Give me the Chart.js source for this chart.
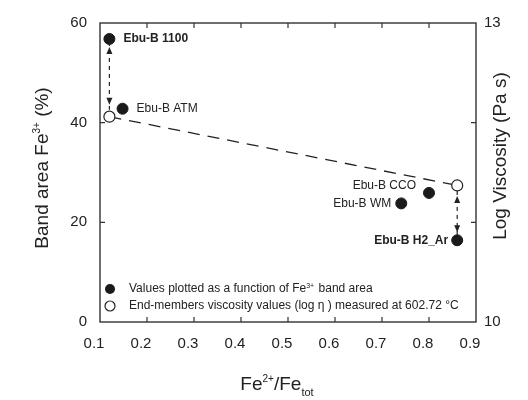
<!DOCTYPE html>
<html><head><meta charset="utf-8">
<script src="https://cdn.jsdelivr.net/npm/chart.js@4/dist/chart.umd.min.js"></script>
<style>html,body{margin:0;padding:0;background:#fff}#wrap{width:528px;height:400px}</style>
</head><body><div id="wrap"><canvas id="c" width="528" height="400"></canvas></div>
<script>
const samples = ['Ebu-B 1100','Ebu-B ATM','Ebu-B CCO','Ebu-B WM','Ebu-B H2_Ar'];
const boldLabel = [true,false,false,false,true];
const feRatio = [0.12, 0.148, 0.80, 0.741, 0.86];
const fe3Area = [56.8, 42.8, 25.9, 23.8, 16.4];
const endMemberRatio = [0.12, 0.86];
const logViscosity = [12.06, 11.37];
const arrowX = [0.12, 0.86];
const arrowTop = [55.2, 25.3];
const arrowBottom = [43.6, 18.0];
const xTicks = [0.1,0.2,0.3,0.4,0.5,0.6,0.7,0.8,0.9];
const yTicks = [0,20,40,60];
const y2Ticks = [10,11,12,13];
const y2Shown = [10,13];

const FONT = '"Liberation Sans", Arial, Helvetica, sans-serif';
const INK = '#222';

const labelOffsets = [[14,0,'left'],[14,0,'left'],[-13,-7,'right'],[-10,0,'right'],[-9,0,'right']];

const deco = {
  id:'deco',
  afterDatasetsDraw(chart){
    const {ctx, chartArea:a, scales} = chart;
    const x = scales.x, y = scales.y, y2 = scales.y2;
    ctx.save();
    // box
    ctx.strokeStyle = '#333'; ctx.lineWidth = 1.4;
    ctx.strokeRect(a.left, a.top, a.right-a.left, a.bottom-a.top);
    // inward ticks
    ctx.lineWidth = 1.2;
    ctx.beginPath();
    xTicks.forEach(v=>{ if(v<=0.1||v>=0.9) return; const px=x.getPixelForValue(v);
      ctx.moveTo(px,a.bottom); ctx.lineTo(px,a.bottom-5);
      ctx.moveTo(px,a.top); ctx.lineTo(px,a.top+5); });
    yTicks.forEach(v=>{ if(v<=0||v>=60) return; const py=y.getPixelForValue(v);
      ctx.moveTo(a.left,py); ctx.lineTo(a.left+5,py); });
    y2Ticks.forEach(v=>{ if(v<=10||v>=13) return; const py=y2.getPixelForValue(v);
      ctx.moveTo(a.right,py); ctx.lineTo(a.right-5,py); });
    ctx.stroke();
    // arrowheads
    ctx.fillStyle = INK;
    arrowX.forEach((v,i)=>{
      const px=x.getPixelForValue(v), pt=y.getPixelForValue(arrowTop[i]), pb=y.getPixelForValue(arrowBottom[i]);
      ctx.beginPath(); ctx.moveTo(px,pt); ctx.lineTo(px-3,pt+7); ctx.lineTo(px+3,pt+7); ctx.closePath(); ctx.fill();
      ctx.beginPath(); ctx.moveTo(px,pb); ctx.lineTo(px-3,pb-7); ctx.lineTo(px+3,pb-7); ctx.closePath(); ctx.fill();
    });
    // point labels
    ctx.textBaseline='middle';
    samples.forEach((s,i)=>{
      const px=x.getPixelForValue(feRatio[i]), py=y.getPixelForValue(fe3Area[i]);
      const o=labelOffsets[i];
      ctx.font=(boldLabel[i]?'bold ':'')+'12px '+FONT;
      ctx.textAlign=o[2];
      ctx.fillStyle=INK;
      ctx.fillText(s, px+o[0], py+o[1]);
    });
    // legend
    const lx = a.left+10, ly1 = a.bottom-33, ly2 = a.bottom-16;
    ctx.beginPath(); ctx.arc(lx, ly1, 5, 0, Math.PI*2); ctx.fillStyle='#1a1a1a'; ctx.fill();
    ctx.beginPath(); ctx.arc(lx, ly2, 5, 0, Math.PI*2); ctx.fillStyle='#fff'; ctx.fill();
    ctx.lineWidth=1.2; ctx.strokeStyle=INK; ctx.stroke();
    ctx.fillStyle=INK; ctx.textAlign='left'; ctx.textBaseline='middle';
    ctx.font='12px '+FONT;
    let tx = lx+19;
    const t1='Values plotted as a function of Fe';
    ctx.fillText(t1, tx, ly1); tx+=ctx.measureText(t1).width;
    ctx.font='7px '+FONT; ctx.fillText('3+', tx, ly1-3); tx+=ctx.measureText('3+').width+1;
    ctx.font='12px '+FONT; ctx.fillText(' band area', tx, ly1);
    ctx.fillText('End-members viscosity values (log \u03B7 ) measured at 602.72 \u00B0C', lx+19, ly2);
    // axis titles
    ctx.font='19px '+FONT; ctx.fillStyle=INK;
    // bottom
    const parts=[['Fe',19,0],['2+',10,-8],['/Fe',19,0],['tot',11,6]];
    let w=0; parts.forEach(p=>{ctx.font=p[1]+'px '+FONT; w+=ctx.measureText(p[0]).width;});
    let bx = 277 - w/2; const by = 390;
    ctx.textBaseline='alphabetic';
    parts.forEach(p=>{ctx.font=p[1]+'px '+FONT; ctx.fillText(p[0], bx, by+p[2]); bx+=ctx.measureText(p[0]).width;});
    // left
    const lparts=[['Band area Fe',19,0],['3+',10,-8],[' (%)',19,0]];
    w=0; lparts.forEach(p=>{ctx.font=p[1]+'px '+FONT; w+=ctx.measureText(p[0]).width;});
    ctx.save(); ctx.translate(48,168); ctx.rotate(-Math.PI/2);
    let qx=-w/2; lparts.forEach(p=>{ctx.font=p[1]+'px '+FONT; ctx.fillText(p[0], qx, p[2]); qx+=ctx.measureText(p[0]).width;});
    ctx.restore();
    // right
    ctx.save(); ctx.translate(506,156); ctx.rotate(-Math.PI/2);
    ctx.font='19px '+FONT; ctx.textAlign='center'; ctx.fillText('Log Viscosity (Pa s)', 0, 0);
    ctx.restore();
    ctx.restore();
  }
};

const filled = feRatio.map((v,i)=>({x:v,y:fe3Area[i]}));
const open = endMemberRatio.map((v,i)=>({x:v,y:logViscosity[i]}));
const arrowSets = arrowX.map((v,i)=>({
  type:'line', yAxisID:'y', data:[{x:v,y:arrowTop[i]+1},{x:v,y:arrowBottom[i]-1}],
  borderColor:INK, borderWidth:1.2, borderDash:[4,4], pointRadius:0, showLine:true, fill:false
}));

new Chart(document.getElementById('c'),{
  type:'scatter',
  data:{datasets:[
    {type:'line', yAxisID:'y2', data:open, showLine:true, borderColor:INK, borderWidth:1.3, borderDash:[12,8],
     pointRadius:5.5, pointBackgroundColor:'#fff', pointBorderColor:INK, pointBorderWidth:1.2, fill:false, order:2},
    {yAxisID:'y', data:filled, pointRadius:5.5, pointBackgroundColor:'#1a1a1a', pointBorderColor:'#1a1a1a', order:1},
    ...arrowSets
  ]},
  options:{
    responsive:false, animation:false, devicePixelRatio:1,
    layout:{padding:{top:23,left:0,right:0,bottom:0}},
    plugins:{legend:{display:false}, tooltip:{enabled:false}},
    scales:{
      x:{type:'linear', min:0.1, max:0.9, border:{display:false}, grid:{display:false, drawTicks:false},
         afterBuildTicks(s){ s.ticks = xTicks.map(v=>({value:v})); },
         afterFit(s){ s.height = 78; },
         ticks:{color:INK, font:{family:FONT,size:15}, padding:13, labelOffset:-6, callback:v=>v.toFixed(1), maxRotation:0, autoSkip:false}},
      y:{type:'linear', position:'left', min:0, max:60, border:{display:false}, grid:{display:false, drawTicks:false},
         afterBuildTicks(s){ s.ticks = yTicks.map(v=>({value:v})); },
         afterFit(s){ s.width = 100; },
         ticks:{color:INK, font:{family:FONT,size:15}, padding:13}},
      y2:{type:'linear', position:'right', min:10, max:13, border:{display:false}, grid:{display:false, drawTicks:false},
         afterBuildTicks(s){ s.ticks = y2Shown.map(v=>({value:v})); },
         afterFit(s){ s.width = 52; },
         ticks:{color:INK, font:{family:FONT,size:15}, padding:8}}
    }
  },
  plugins:[deco]
});
</script></body></html>
